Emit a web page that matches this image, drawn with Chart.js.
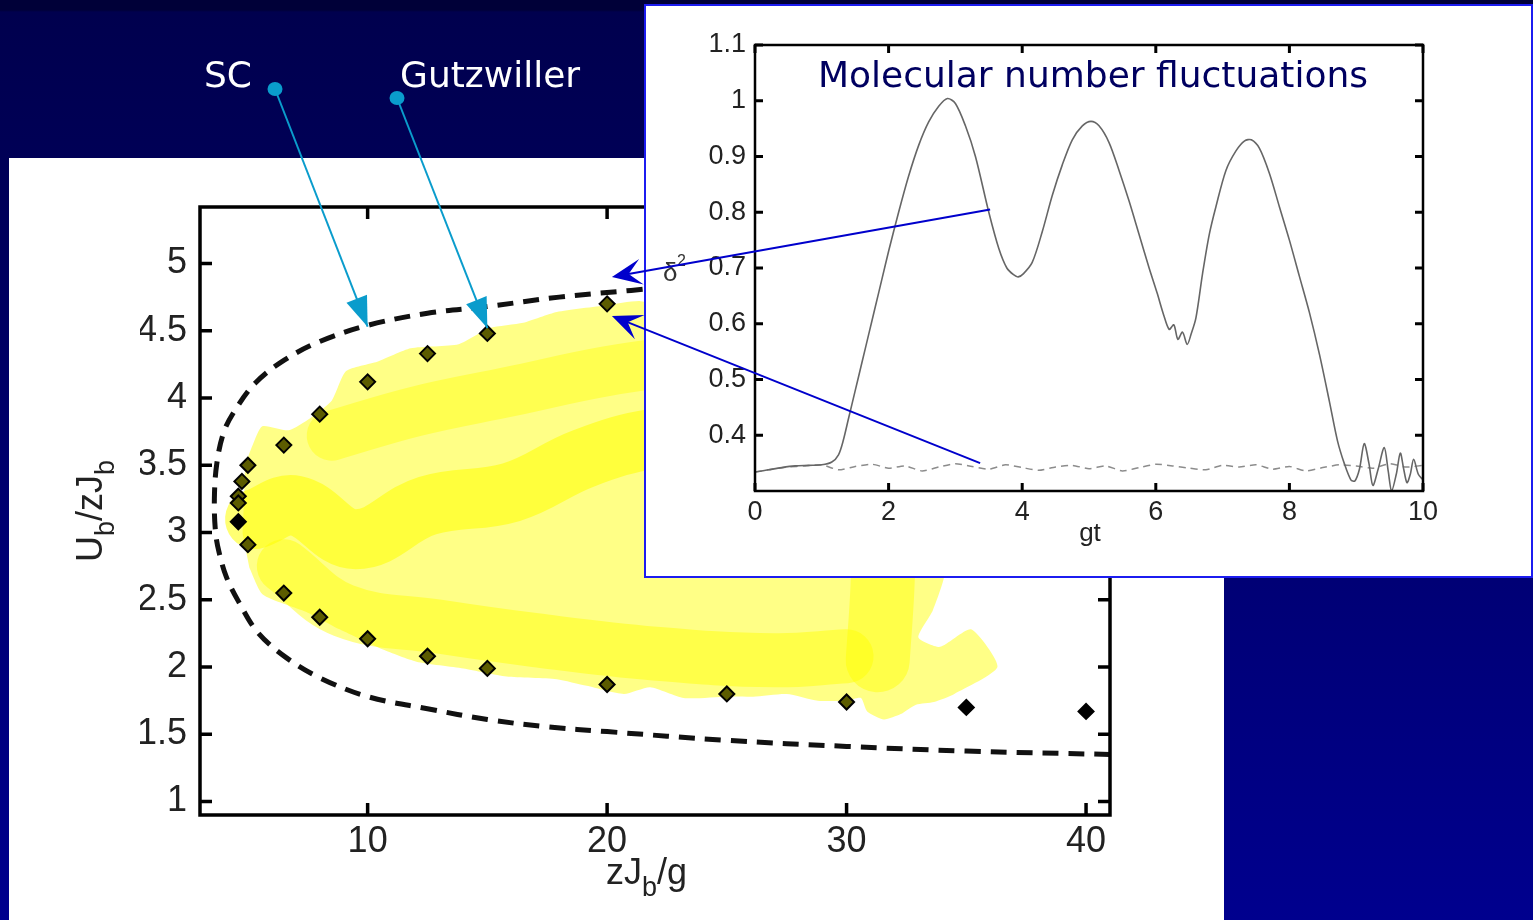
<!DOCTYPE html>
<html>
<head>
<meta charset="utf-8">
<title>Phase diagram</title>
<script src="https://cdn.jsdelivr.net/npm/chart.js@4.4.0/dist/chart.umd.min.js"></script>
<style>
    html, body { margin: 0; padding: 0; width: 1533px; height: 920px; overflow: hidden; }
    body { position: relative; background: linear-gradient(180deg, #000038 0px, #000038 10px, #00004e 12px, #000056 160px, #00008e 920px); }
    #panel { position: absolute; left: 9px; top: 158px; width: 1215px; height: 762px; background: #fff; }
    #insetBox { position: absolute; left: 644px; top: 4px; width: 889px; height: 574px; background: #fff; border: 2px solid #1c1cf0; box-sizing: border-box; }
    canvas { position: absolute; left: 0; top: 0; }
</style>
</head>
<body>
<div id="panel"></div>
<canvas id="mainChart" width="1533" height="920"></canvas>
<div id="insetBox"></div>
<canvas id="insetChart" width="1533" height="920"></canvas>
<script>
// ---------- main chart : U_b/zJ_b vs zJ_b/g ----------
var xTicks = [10, 20, 30, 40];
var yTicks = [1, 1.5, 2, 2.5, 3, 3.5, 4, 4.5, 5];

// Gutzwiller boundary (markers)
var gwX = [20, 15, 12.5, 10, 8, 6.5, 5, 4.75, 4.6, 4.6, 4.6, 5, 6.5, 8, 10, 12.5, 15, 20, 25, 30, 35, 40];
var gwY = [4.70, 4.48, 4.33, 4.12, 3.88, 3.65, 3.50, 3.38, 3.27, 3.22, 3.08, 2.91, 2.55, 2.37, 2.21, 2.08, 1.99, 1.87, 1.80, 1.74, 1.70, 1.67];
var gwInYellow = [1, 1, 1, 1, 1, 1, 1, 1, 1, 1, 0, 1, 1, 1, 1, 1, 1, 1, 1, 1, 0, 0];

// SC boundary (dashed curve)
var scX = [41, 30, 24, 21, 18, 15, 12.5, 10, 8, 6.5, 5.3, 4.5, 4.0, 3.7, 3.6, 3.65, 3.8, 4.1, 4.6, 5.4, 6.6, 8, 10, 12.5, 15, 17.5, 20, 25, 30, 35, 41];
var scY = [4.95, 4.9, 4.85, 4.80, 4.75, 4.68, 4.63, 4.54, 4.42, 4.28, 4.11, 3.92, 3.75, 3.51, 3.25, 3.0, 2.85, 2.67, 2.49, 2.26, 2.07, 1.92, 1.78, 1.69, 1.61, 1.555, 1.52, 1.455, 1.41, 1.375, 1.35];

// outline of the yellow (simulated) region
var regionX = [4.78, 4.85, 4.9, 5.2, 5.6, 6.7, 7.6, 8.5, 9.1, 10.4, 11.8, 13.8, 15.1, 16.5, 17.9, 20, 21.4, 25, 29, 32.5, 34.3, 34.06, 33.6, 33.0, 33.9, 35.2, 36.3, 34.5, 33.65, 32.9, 32.26, 31.56, 30.86, 30.6, 30, 28.8, 27.5, 26.1, 25, 23.2, 21.8, 20.7, 19.15, 17.9, 15.8, 14, 12.04, 10.64, 8.83, 7.44, 5.62, 5.06];
var regionY = [2.99, 3.3, 3.5, 3.65, 3.79, 3.76, 3.85, 3.98, 4.2, 4.27, 4.37, 4.40, 4.52, 4.56, 4.64, 4.69, 4.72, 4.6, 4.3, 3.7, 3.0, 2.66, 2.42, 2.22, 2.15, 2.28, 2.0, 1.80, 1.74, 1.72, 1.65, 1.61, 1.67, 1.77, 1.75, 1.75, 1.80, 1.78, 1.78, 1.77, 1.85, 1.80, 1.86, 1.91, 1.93, 1.99, 2.04, 2.13, 2.28, 2.41, 2.54, 2.74];

// brighter bands inside the region
var bandMidX = [5.3, 7, 9.5, 12.5, 16, 19, 22, 26];
var bandMidY = [3.1, 3.2, 2.95, 3.2, 3.3, 3.55, 3.7, 3.75];
var bandTopX = [8.5, 12, 16, 20, 24];
var bandTopY = [3.72, 3.9, 4.05, 4.2, 4.3];
var bandLowX = [6.5, 9, 13, 17, 22, 27, 30];
var bandLowY = [2.75, 2.42, 2.3, 2.2, 2.1, 2.05, 2.08];
var bandVertX = [31.6, 31.5, 31.3];
var bandVertY = [3.3, 2.6, 2.05];

// annotation anchors (data coordinates of arrow tips)
var scTip = [10, 4.53];
var gwTip = [15, 4.52];

// ---------- inset : molecular number fluctuations vs gt ----------
var insetXTicks = [0, 2, 4, 6, 8, 10];
var insetYTicks = [0.4, 0.5, 0.6, 0.7, 0.8, 0.9, 1, 1.1];

var gtSolid = [0, 0.2, 0.4, 0.6, 0.8, 1.0, 1.15, 1.25, 1.32, 1.4, 1.5, 1.6, 1.7, 1.8, 1.9, 2.0, 2.15, 2.3, 2.45, 2.6, 2.75, 2.88, 3.0, 3.15, 3.3, 3.5, 3.65, 3.77, 3.87, 3.94, 4.02, 4.15, 4.3, 4.45, 4.6, 4.75, 4.9, 5.03, 5.15, 5.3, 5.45, 5.6, 5.75, 5.9, 6.02, 6.12, 6.2, 6.27, 6.33, 6.4, 6.47, 6.53, 6.6, 6.7, 6.8, 6.9, 7.05, 7.2, 7.33, 7.43, 7.55, 7.7, 7.85, 8.0, 8.15, 8.3, 8.45, 8.6, 8.72, 8.82, 8.92, 8.98, 9.05, 9.12, 9.19, 9.25, 9.33, 9.42, 9.48, 9.53, 9.6, 9.66, 9.71, 9.76, 9.81, 9.86, 9.93, 10];
var flSolid = [0.334, 0.338, 0.342, 0.345, 0.346, 0.347, 0.352, 0.365, 0.39, 0.43, 0.48, 0.53, 0.58, 0.63, 0.68, 0.73, 0.80, 0.865, 0.92, 0.962, 0.99, 1.004, 0.995, 0.955, 0.90, 0.80, 0.735, 0.70, 0.688, 0.684, 0.69, 0.71, 0.765, 0.83, 0.885, 0.93, 0.955, 0.963, 0.955, 0.925, 0.875, 0.82, 0.76, 0.70, 0.655, 0.615, 0.59, 0.598, 0.572, 0.585, 0.563, 0.582, 0.61, 0.69, 0.76, 0.81, 0.875, 0.91, 0.928, 0.93, 0.915, 0.87, 0.81, 0.75, 0.685, 0.62, 0.545, 0.46, 0.39, 0.35, 0.32, 0.318, 0.34, 0.385, 0.35, 0.31, 0.34, 0.378, 0.335, 0.30, 0.33, 0.368, 0.34, 0.315, 0.33, 0.357, 0.33, 0.32];

var gtDash = [0, 0.25, 0.5, 0.75, 1.0, 1.25, 1.5, 1.75, 2.0, 2.25, 2.5, 2.75, 3.0, 3.25, 3.5, 3.75, 4.0, 4.25, 4.5, 4.75, 5.0, 5.25, 5.5, 5.75, 6.0, 6.25, 6.5, 6.75, 7.0, 7.25, 7.5, 7.75, 8.0, 8.25, 8.5, 8.75, 9.0, 9.25, 9.5, 9.75, 10];
var flDash = [0.334, 0.339, 0.343, 0.345, 0.347, 0.338, 0.344, 0.348, 0.341, 0.345, 0.336, 0.343, 0.349, 0.344, 0.339, 0.347, 0.342, 0.337, 0.343, 0.346, 0.340, 0.345, 0.336, 0.342, 0.348, 0.345, 0.341, 0.338, 0.346, 0.343, 0.347, 0.339, 0.344, 0.336, 0.342, 0.347, 0.345, 0.341, 0.349, 0.343, 0.346];

// blue arrows : start in the inset (gt, fluct) -> tip in the main plot (x, y)
var blueArrows = [
    { from: [3.52, 0.805], to: [20.2, 4.90] },
    { from: [3.37, 0.350], to: [20.2, 4.61] }
];

function pts(xs, ys) {
    return xs.map(function (x, i) { return { x: x, y: ys[i] }; });
}

function drawFrame(chart, lw, tick, tickW) {
    var a = chart.chartArea, ctx = chart.ctx, xs = chart.scales.x, ys = chart.scales.y;
    ctx.save();
    ctx.strokeStyle = '#000';
    ctx.lineWidth = lw;
    ctx.strokeRect(a.left, a.top, a.right - a.left, a.bottom - a.top);
    ctx.lineWidth = tickW;
    ctx.beginPath();
    xs.ticks.forEach(function (t) {
        var px = xs.getPixelForValue(t.value);
        ctx.moveTo(px, a.bottom); ctx.lineTo(px, a.bottom - tick);
        ctx.moveTo(px, a.top); ctx.lineTo(px, a.top + tick);
    });
    ys.ticks.forEach(function (t) {
        var py = ys.getPixelForValue(t.value);
        ctx.moveTo(a.left, py); ctx.lineTo(a.left + tick, py);
        ctx.moveTo(a.right, py); ctx.lineTo(a.right - tick, py);
    });
    ctx.stroke();
    ctx.restore();
}

// text with subscripts : parts = [[text, isSub], ...]
function subText(ctx, parts, x, y, big, small, drop) {
    parts.forEach(function (p) {
        ctx.font = (p[1] ? small : big) + 'px "Liberation Sans", Arial, sans-serif';
        ctx.fillText(p[0], x, y + (p[1] ? drop : 0));
        x += ctx.measureText(p[0]).width;
    });
}

function arrowHead(ctx, x1, y1, x2, y2, len, half, back) {
    var a = Math.atan2(y2 - y1, x2 - x1), c = Math.cos(a), s = Math.sin(a);
    ctx.beginPath();
    ctx.moveTo(x2, y2);
    ctx.lineTo(x2 - len * c + half * s, y2 - len * s - half * c);
    ctx.lineTo(x2 - back * c, y2 - back * s);
    ctx.lineTo(x2 - len * c - half * s, y2 - len * s + half * c);
    ctx.closePath();
    ctx.fill();
}

var mainDecor = {
    id: 'mainDecor',
    afterDraw: function (chart) {
        var ctx = chart.ctx, xs = chart.scales.x, ys = chart.scales.y;
        drawFrame(chart, 3.5, 12, 3.5);

        // axis titles
        ctx.save();
        ctx.fillStyle = '#222';
        ctx.textBaseline = 'alphabetic';
        subText(ctx, [['zJ', 0], ['b', 1], ['/g', 0]], 606, 884, 36, 27, 12);
        ctx.translate(102, 562);
        ctx.rotate(-Math.PI / 2);
        subText(ctx, [['U', 0], ['b', 1], ['/zJ', 0], ['b', 1]], 0, 0, 36, 27, 12);
        ctx.restore();

        // SC / Gutzwiller labels with cyan pointers
        ctx.save();
        ctx.fillStyle = '#ffffff';
        ctx.font = '36px "DejaVu Sans", Verdana, sans-serif';
        ctx.fillText('SC', 204, 87);
        ctx.fillText('Gutzwiller', 400, 87);
        ctx.strokeStyle = '#0a9ccc';
        ctx.fillStyle = '#0a9ccc';
        ctx.lineWidth = 2;
        [[275, 89, scTip], [397, 98, gwTip]].forEach(function (a) {
            var tx = xs.getPixelForValue(a[2][0]), ty = ys.getPixelForValue(a[2][1]);
            ctx.beginPath();
            ctx.ellipse(a[0], a[1], 7.5, 7, 0, 0, Math.PI * 2);
            ctx.fill();
            ctx.beginPath();
            ctx.moveTo(a[0], a[1]);
            ctx.lineTo(tx, ty);
            ctx.stroke();
            arrowHead(ctx, a[0], a[1], tx, ty, 30, 11, 30);
        });
        ctx.restore();
    }
};

var mainChart = new Chart(document.getElementById('mainChart'), {
    type: 'line',
    data: {
        datasets: [
            {
                label: 'Gutzwiller',
                data: pts(gwX, gwY),
                showLine: false,
                pointStyle: 'rectRot',
                pointRadius: 7.5,
                pointBorderWidth: 2,
                pointBorderColor: '#000',
                pointBackgroundColor: gwInYellow.map(function (f) { return f ? '#5c5c00' : '#000'; }),
                order: 1
            },
            {
                label: 'SC',
                data: pts(scX, scY),
                borderColor: '#111',
                borderWidth: 5,
                borderDash: [16, 10],
                tension: 0.35,
                pointRadius: 0,
                fill: false,
                order: 2
            },
            {
                label: 'band mid',
                data: pts(bandMidX, bandMidY),
                borderColor: 'rgba(255,255,0,0.55)',
                borderWidth: 60,
                borderCapStyle: 'round',
                borderJoinStyle: 'round',
                tension: 0.4,
                pointRadius: 0,
                fill: false,
                order: 4
            },
            {
                label: 'band top',
                data: pts(bandTopX, bandTopY),
                borderColor: 'rgba(255,255,0,0.4)',
                borderWidth: 50,
                borderCapStyle: 'round',
                borderJoinStyle: 'round',
                tension: 0.4,
                pointRadius: 0,
                fill: false,
                order: 4
            },
            {
                label: 'band low',
                data: pts(bandLowX, bandLowY),
                borderColor: 'rgba(255,255,0,0.45)',
                borderWidth: 54,
                borderCapStyle: 'round',
                borderJoinStyle: 'round',
                tension: 0.4,
                pointRadius: 0,
                fill: false,
                order: 4
            },
            {
                label: 'band vert',
                data: pts(bandVertX, bandVertY),
                borderColor: 'rgba(255,255,0,0.45)',
                borderWidth: 64,
                borderCapStyle: 'round',
                borderJoinStyle: 'round',
                tension: 0.4,
                pointRadius: 0,
                fill: false,
                order: 4
            },
            {
                label: 'region',
                data: pts(regionX, regionY),
                borderColor: 'rgba(0,0,0,0)',
                backgroundColor: '#ffff86',
                fill: 'shape',
                tension: 0.2,
                pointRadius: 0,
                order: 5
            }
        ]
    },
    options: {
        responsive: false,
        animation: false,
        events: [],
        layout: { padding: { left: 140, right: 423, top: 207, bottom: 45 } },
        plugins: { legend: { display: false }, tooltip: { enabled: false } },
        scales: {
            x: {
                type: 'linear',
                min: 3, max: 41,
                grid: { display: false },
                border: { display: false },
                afterBuildTicks: function (s) { s.ticks = xTicks.map(function (v) { return { value: v }; }); },
                afterFit: function (s) { s.height = 60; },
                ticks: { color: '#222', padding: -3, maxRotation: 0, font: { family: '"Liberation Sans", Arial, sans-serif', size: 36 } }
            },
            y: {
                type: 'linear',
                min: 0.9, max: 5.42,
                grid: { display: false },
                border: { display: false },
                afterBuildTicks: function (s) { s.ticks = yTicks.map(function (v) { return { value: v }; }); },
                afterFit: function (s) { s.width = 60; },
                ticks: { color: '#222', padding: 5, font: { family: '"Liberation Sans", Arial, sans-serif', size: 36 },
                    callback: function (v) { return String(v); } }
            }
        }
    },
    plugins: [mainDecor]
});

var insetDecor = {
    id: 'insetDecor',
    afterDraw: function (chart) {
        var ctx = chart.ctx;
        drawFrame(chart, 2.5, 8, 3);

        ctx.save();
        ctx.fillStyle = '#222';
        ctx.textAlign = 'center';
        ctx.font = '26px "Liberation Sans", Arial, sans-serif';
        ctx.fillText('gt', 1090, 541);
        ctx.textAlign = 'left';
        ctx.fillStyle = '#333';
        ctx.font = '26px "Liberation Sans", Arial, sans-serif';
        ctx.fillText('\u03b4', 663, 281);
        ctx.font = '16px "Liberation Sans", Arial, sans-serif';
        ctx.fillText('2', 677, 266);
        ctx.fillStyle = '#000060';
        ctx.textAlign = 'center';
        ctx.font = '36px "DejaVu Sans", Verdana, sans-serif';
        ctx.fillText('Molecular number fluctuations', 1093, 87);
        ctx.restore();

        // blue arrows from the inset curves to the main diagram
        var mx = mainChart.scales.x, my = mainChart.scales.y;
        var ix = chart.scales.x, iy = chart.scales.y;
        ctx.save();
        ctx.strokeStyle = '#0000cc';
        ctx.fillStyle = '#0000cc';
        ctx.lineWidth = 2;
        blueArrows.forEach(function (a) {
            var x1 = ix.getPixelForValue(a.from[0]), y1 = iy.getPixelForValue(a.from[1]);
            var x2 = mx.getPixelForValue(a.to[0]), y2 = my.getPixelForValue(a.to[1]);
            var ang = Math.atan2(y1 - y2, x1 - x2);
            ctx.beginPath();
            ctx.moveTo(x1, y1);
            ctx.lineTo(x2 + 14 * Math.cos(ang), y2 + 14 * Math.sin(ang));
            ctx.stroke();
            arrowHead(ctx, x1, y1, x2, y2, 30, 13, 17);
        });
        ctx.restore();
    }
};

var insetChart = new Chart(document.getElementById('insetChart'), {
    type: 'line',
    data: {
        datasets: [
            {
                label: 'fluctuations',
                data: pts(gtSolid, flSolid),
                borderColor: '#666',
                borderWidth: 1.6,
                tension: 0.3,
                pointRadius: 0,
                fill: false
            },
            {
                label: 'reference',
                data: pts(gtDash, flDash),
                borderColor: '#8c8c8c',
                borderWidth: 1.5,
                borderDash: [7, 5],
                tension: 0.2,
                pointRadius: 0,
                fill: false
            }
        ]
    },
    options: {
        responsive: false,
        animation: false,
        events: [],
        layout: { padding: { left: 705, right: 110, top: 45, bottom: 389 } },
        plugins: { legend: { display: false }, tooltip: { enabled: false } },
        scales: {
            x: {
                type: 'linear',
                min: 0, max: 10,
                grid: { display: false },
                border: { display: false },
                afterBuildTicks: function (s) { s.ticks = insetXTicks.map(function (v) { return { value: v }; }); },
                afterFit: function (s) { s.height = 40; },
                ticks: { color: '#222', padding: -3, maxRotation: 0, font: { family: '"Liberation Sans", Arial, sans-serif', size: 27 } }
            },
            y: {
                type: 'linear',
                min: 0.3, max: 1.1,
                grid: { display: false },
                border: { display: false },
                afterBuildTicks: function (s) { s.ticks = insetYTicks.map(function (v) { return { value: v }; }); },
                afterFit: function (s) { s.width = 50; },
                ticks: { color: '#222', padding: 1, font: { family: '"Liberation Sans", Arial, sans-serif', size: 27 },
                    callback: function (v) { return String(v); } }
            }
        }
    },
    plugins: [insetDecor]
});
</script>
</body>
</html>
